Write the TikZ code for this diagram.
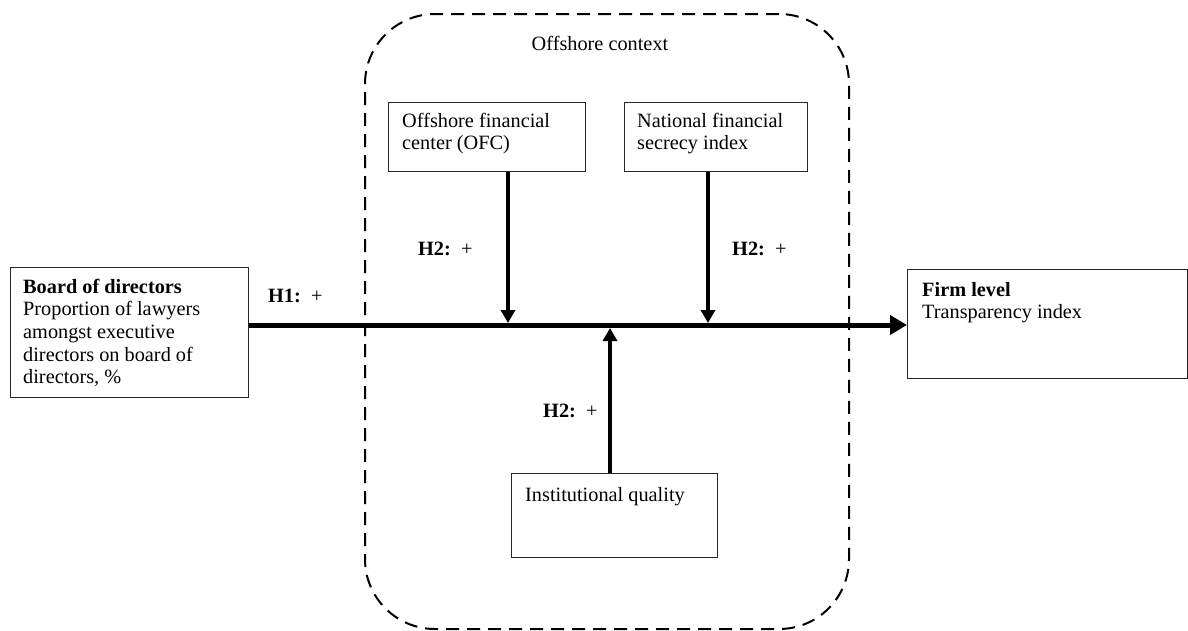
\documentclass[tikz,border=0pt]{standalone}
\usepackage{fontspec}
\setmainfont{Liberation Serif}
\usetikzlibrary{arrows.meta, calc, positioning}
\tikzset{box/.style={draw=black!85, line width=0.9pt, anchor=north west, inner sep=0pt},
  txt/.style={anchor=base west, inner sep=0pt, align=left, font=\fontsize{20.3}{22.7}\selectfont},
  ctxbox/.style={draw, line width=2pt, dash pattern=on 13pt off 8pt, rounded corners=70pt, anchor=north west, inner sep=0pt},
  link/.style={line width=4pt, -{Triangle[length=13pt, width=14pt]}},
  mainlink/.style={line width=5pt, -{Triangle[length=17pt, width=19pt]}}}

\begin{document}
\begin{tikzpicture}[x=1pt, y=-1pt]
  \useasboundingbox (0,0) rectangle (1188,630);
  % offshore context
  \node[ctxbox, minimum width=484pt, minimum height=615pt] (ctx) at (364,13) {};
  \node[txt, anchor=base] (ctxtxt) at (600,50) {Offshore context};
  % boxes
  \node[box, minimum width=238pt, minimum height=130pt] (board) at (10,267) {};
  \node[box, minimum width=280pt, minimum height=109pt] (firm) at (907,269) {};
  \node[box, minimum width=197pt, minimum height=69pt] (ofc) at (388,102) {};
  \node[box, minimum width=183pt, minimum height=69pt] (nfs) at (624,102) {};
  \node[box, minimum width=206pt, minimum height=84pt] (inst) at (511,473) {};
  % text sits on the baseline of its last line
  \node[txt] (boardtxt) at ([xshift=13pt, yshift=-116.8pt]board.north west) {\textbf{Board of directors}\\Proportion of lawyers\\amongst executive\\directors on board of\\directors, \%};
  \node[txt] (firmtxt) at ([xshift=15pt, yshift=-49.7pt]firm.north west) {\textbf{Firm level}\\Transparency index};
  \node[txt] (ofctxt) at ([xshift=14pt, yshift=-47.7pt]ofc.north west) {Offshore financial\\center (OFC)};
  \node[txt] (nfstxt) at ([xshift=13pt, yshift=-47.7pt]nfs.north west) {National financial\\secrecy index};
  \node[txt] (insttxt) at ([xshift=14pt, yshift=-28pt]inst.north west) {Institutional quality};
  % hypotheses
  \node[txt] (h1) at (268,302) {\textbf{H1:}\ \ +};
  \node[txt] (h2a) at (418,255) {\textbf{H2:}\ \ +};
  \node[txt] (h2b) at (732,255) {\textbf{H2:}\ \ +};
  \node[txt] (h2c) at (543,417) {\textbf{H2:}\ \ +};
  % connectors
  \coordinate (m) at (0,325);
  \coordinate (j1) at (508,323);
  \coordinate (j2) at (708,323);
  \coordinate (j3) at (610,328);
  \draw[mainlink] (board.east |- m) -- (firm.west |- m);
  \draw[link] (ofc.south -| j1) -- (j1);
  \draw[link] (nfs.south -| j2) -- (j2);
  \draw[link] (inst.north -| j3) -- (j3);
\end{tikzpicture}
\end{document}
